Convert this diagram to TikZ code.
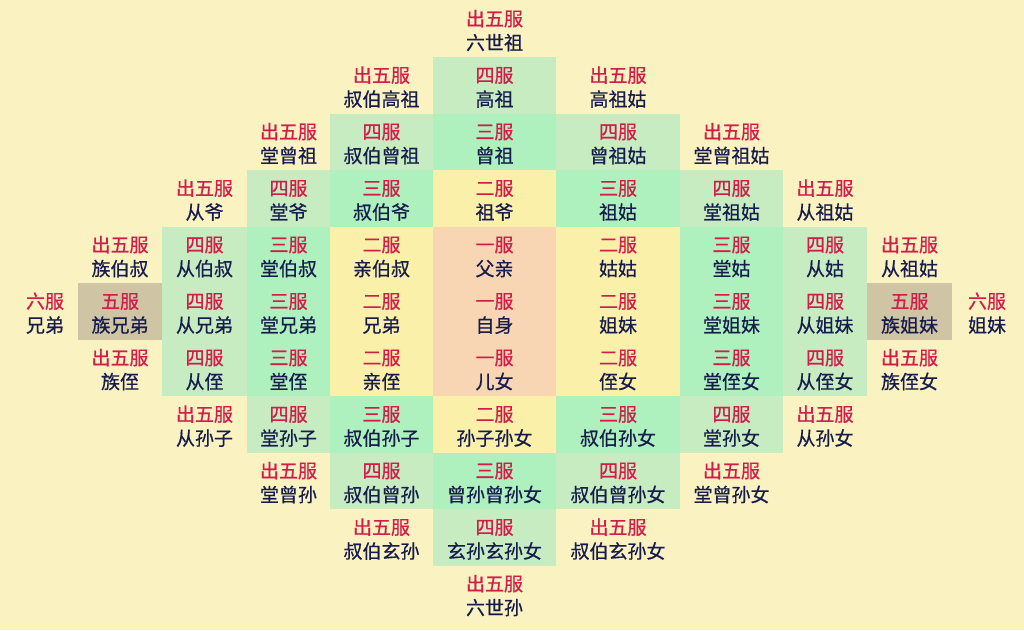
\documentclass[tikz,border=0pt]{standalone}
\usepackage{fontspec}
\newfontfamily\cjk{Noto Sans CJK SC}[FakeBold=0.6]
\definecolor{bgc}{HTML}{FBF2C1}
\definecolor{gfour}{HTML}{C8ECC2}
\definecolor{gthree}{HTML}{AEF1BF}
\definecolor{gtwo}{HTML}{FBF0A9}
\definecolor{gone}{HTML}{F8D5B3}
\definecolor{gfive}{HTML}{CFC4A3}
\definecolor{redtxt}{HTML}{D21C4A}
\definecolor{navytxt}{HTML}{161C4C}
\tikzset{
  cellbox/.style={inner sep=0pt,outer sep=0pt,minimum height=56.5pt},
  fnone/.style={},
  f1/.style={fill=gone},
  f2/.style={fill=gtwo},
  f3/.style={fill=gthree},
  f4/.style={fill=gfour},
  f5/.style={fill=gfive},
  grade/.style={inner sep=0pt,text height=0.88em,text depth=0.12em,font=\cjk\fontsize{19pt}{23pt}\selectfont,text=redtxt},
  kin/.style={inner sep=0pt,text height=0.88em,text depth=0.12em,font=\cjk\fontsize{19pt}{23pt}\selectfont,text=navytxt}
}
\def\colL{{12,78,162,247,330,433,556,680,783,867,952}}
\def\colR{{78,162,247,330,433,556,680,783,867,952,1022}}
\begin{document}
\begin{tikzpicture}[x=1pt,y=-1pt]
\fill[bgc] (0,0) rectangle (1024,630);
\useasboundingbox (0,0) rectangle (1024,630);
\foreach \ci/\ri/\ks/\gd/\nm in {
5/0/fnone/出五服/六世祖,
4/1/fnone/出五服/叔伯高祖, 5/1/f4/四服/高祖, 6/1/fnone/出五服/高祖姑,
3/2/fnone/出五服/堂曾祖, 4/2/f4/四服/叔伯曾祖, 5/2/f3/三服/曾祖, 6/2/f4/四服/曾祖姑, 7/2/fnone/出五服/堂曾祖姑,
2/3/fnone/出五服/从爷, 3/3/f4/四服/堂爷, 4/3/f3/三服/叔伯爷, 5/3/f2/二服/祖爷, 6/3/f3/三服/祖姑, 7/3/f4/四服/堂祖姑, 8/3/fnone/出五服/从祖姑,
1/4/fnone/出五服/族伯叔, 2/4/f4/四服/从伯叔, 3/4/f3/三服/堂伯叔, 4/4/f2/二服/亲伯叔, 5/4/f1/一服/父亲, 6/4/f2/二服/姑姑, 7/4/f3/三服/堂姑, 8/4/f4/四服/从姑, 9/4/fnone/出五服/从祖姑,
0/5/fnone/六服/兄弟, 1/5/f5/五服/族兄弟, 2/5/f4/四服/从兄弟, 3/5/f3/三服/堂兄弟, 4/5/f2/二服/兄弟, 5/5/f1/一服/自身, 6/5/f2/二服/姐妹, 7/5/f3/三服/堂姐妹, 8/5/f4/四服/从姐妹, 9/5/f5/五服/族姐妹, 10/5/fnone/六服/姐妹,
1/6/fnone/出五服/族侄, 2/6/f4/四服/从侄, 3/6/f3/三服/堂侄, 4/6/f2/二服/亲侄, 5/6/f1/一服/儿女, 6/6/f2/二服/侄女, 7/6/f3/三服/堂侄女, 8/6/f4/四服/从侄女, 9/6/fnone/出五服/族侄女,
2/7/fnone/出五服/从孙子, 3/7/f4/四服/堂孙子, 4/7/f3/三服/叔伯孙子, 5/7/f2/二服/孙子孙女, 6/7/f3/三服/叔伯孙女, 7/7/f4/四服/堂孙女, 8/7/fnone/出五服/从孙女,
3/8/fnone/出五服/堂曾孙, 4/8/f4/四服/叔伯曾孙, 5/8/f3/三服/曾孙曾孙女, 6/8/f4/四服/叔伯曾孙女, 7/8/fnone/出五服/堂曾孙女,
4/9/fnone/出五服/叔伯玄孙, 5/9/f4/四服/玄孙玄孙女, 6/9/fnone/出五服/叔伯玄孙女,
5/10/fnone/出五服/六世孙}{
  \pgfmathsetmacro\xl{\colL[\ci]}
  \pgfmathsetmacro\xr{\colR[\ci]}
  \pgfmathsetmacro\xc{(\xl+\xr)/2}
  \pgfmathsetmacro\cw{\xr-\xl}
  \pgfmathsetmacro\yc{28.75+56.5*\ri}
  \node[cellbox,\ks,minimum width=\cw pt] (c\ci r\ri) at (\xc,\yc) {};
  \node[grade] (g\ci r\ri) at ([yshift=6.75pt]c\ci r\ri.center) {\gd};
  \node[kin] (k\ci r\ri) at ([yshift=-17.25pt]c\ci r\ri.center) {\nm};
}
\end{tikzpicture}
\end{document}
